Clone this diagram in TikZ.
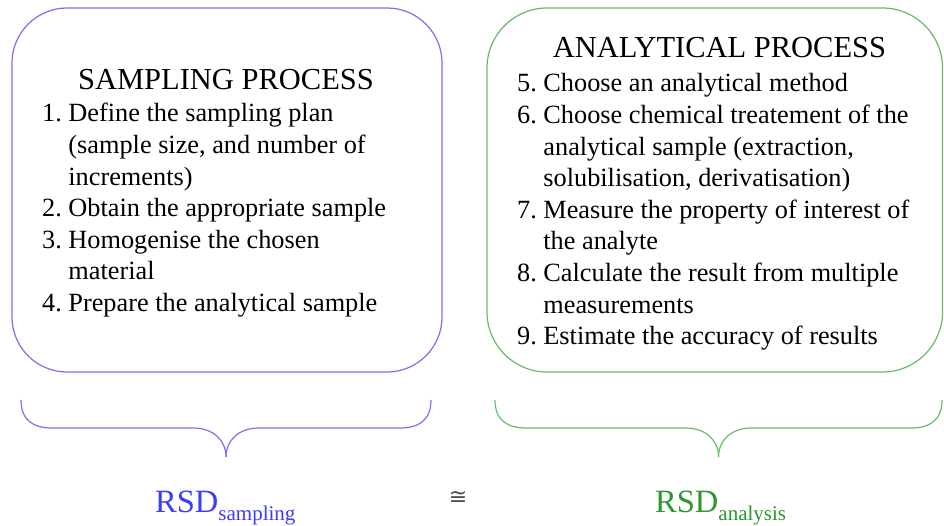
\documentclass[tikz,border=0pt]{standalone}
\usepackage{fontspec}
\setmainfont{Liberation Serif}
\newfontfamily\symfont{DejaVu Sans}
\definecolor{bluetext}{RGB}{60,60,250}
\definecolor{blueline}{RGB}{115,115,240}
\definecolor{greentext}{RGB}{45,150,45}
\definecolor{greenline}{RGB}{105,185,105}
\tikzset{
  procbox/.style={line width=1.2bp},
  heading/.style={inner sep=0pt, anchor=base, font=\fontsize{30.5bp}{34bp}\selectfont},
  itemlist/.style={inner sep=0pt, anchor=base west, font=\fontsize{26.3bp}{31.6bp}\selectfont},
  bracepath/.style={line width=1.2bp},
  rsd/.style={inner sep=0pt, anchor=base west, font=\fontsize{32.5bp}{36bp}\selectfont}
}
\newcommand{\subtext}[1]{\raisebox{-8bp}{\fontsize{21bp}{24bp}\selectfont #1}}
\begin{document}
\begin{tikzpicture}[x=1bp,y=-1bp]
\useasboundingbox (0,0) rectangle (944,526);
% boxes
\draw[procbox, blueline, rounded corners=55bp] (12,8) rectangle (442,372);
\draw[procbox, greenline, rounded corners=60bp] (487,8) rectangle (942.5,372);
% headings
\node[heading] (h1) at (226,90) {SAMPLING PROCESS};
\node[heading] (h2) at (719.5,58) {ANALYTICAL PROCESS};
% lists
\node[itemlist] (l1) at (42,122) {\begin{tabular}[t]{@{}l@{\hspace{6.5bp}}l@{}}
1. & Define the sampling plan\\
 & (sample size, and number of\\
 & increments)\\
2. & Obtain the appropriate sample\\
3. & Homogenise the chosen\\
 & material\\
4. & Prepare the analytical sample
\end{tabular}};
\node[itemlist] (l2) at (517,92) {\begin{tabular}[t]{@{}l@{\hspace{6.5bp}}l@{}}
5. & Choose an analytical method\\
6. & Choose chemical treatement of the\\
 & analytical sample (extraction,\\
 & solubilisation, derivatisation)\\
7. & Measure the property of interest of\\
 & the analyte\\
8. & Calculate the result from multiple\\
 & measurements\\
9. & Estimate the accuracy of results
\end{tabular}};
% braces
\coordinate (b1l) at (21,400);
\coordinate (b1r) at (431,400);
\coordinate (b1t) at (226,457);
\draw[bracepath, blueline] (b1l) .. controls (21,420) and (33,428) .. (52,428) -- (193,428)
  .. controls (213,428) and (226,440) .. (b1t);
\draw[bracepath, blueline] (b1r) .. controls (431,420) and (419,428) .. (400,428) -- (259,428)
  .. controls (239,428) and (226,440) .. (b1t);
\coordinate (b2l) at (495,400);
\coordinate (b2r) at (942,400);
\coordinate (b2t) at (718.5,457);
\draw[bracepath, greenline] (b2l) .. controls (495,420) and (507,428) .. (526,428) -- (685.5,428)
  .. controls (705.5,428) and (718.5,440) .. (b2t);
\draw[bracepath, greenline] (b2r) .. controls (942,420) and (930,428) .. (911,428) -- (751.5,428)
  .. controls (731.5,428) and (718.5,440) .. (b2t);
% labels
\node[rsd, text=bluetext] (rs) at (155,512) {RSD\subtext{sampling}};
\node[rsd, text=greentext] (ra) at (655,512) {RSD\subtext{analysis}};
\node[inner sep=0pt, text=black!70, font=\symfont\fontsize{22bp}{22bp}\selectfont] (cong) at (458,498) {≅};
\end{tikzpicture}
\end{document}
